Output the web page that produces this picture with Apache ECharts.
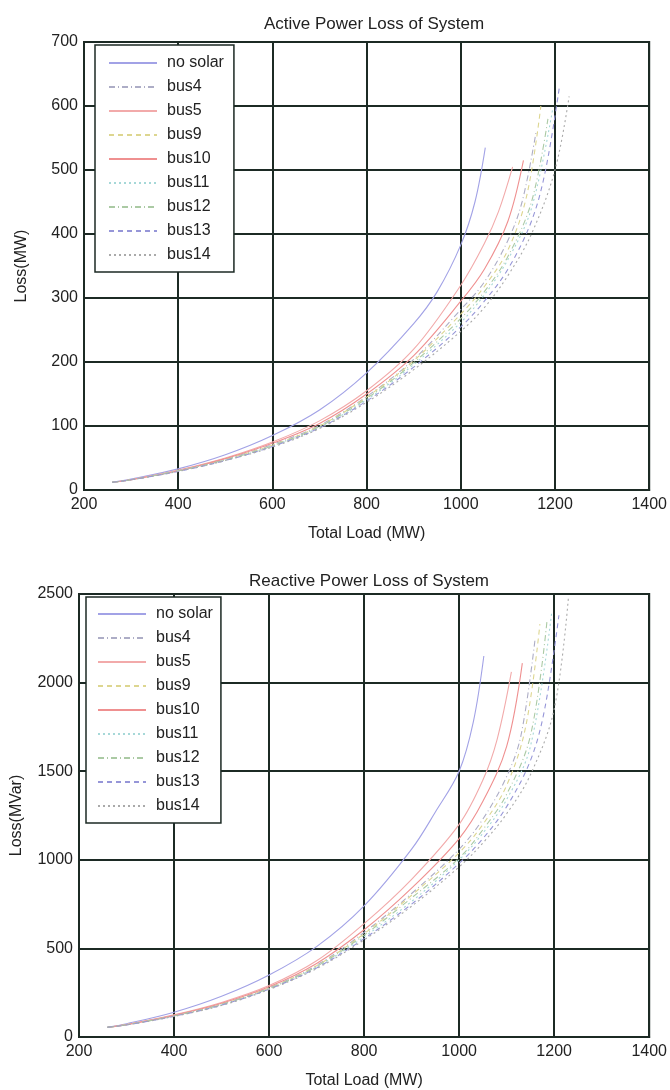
<!DOCTYPE html>
<html>
<head>
<meta charset="utf-8">
<script src="https://cdn.jsdelivr.net/npm/echarts@6/dist/echarts.min.js"></script>
<style>html,body{margin:0;padding:0;background:#fff}#c{width:670px;height:1090px}</style>
</head>
<body>
<div id="c"></div>
<script>
const seriesNames = ['no solar','bus4','bus5','bus9','bus10','bus11','bus12','bus13','bus14'];
const xTicks = [200, 400, 600, 800, 1000, 1200, 1400];
const pTicks = [0, 100, 200, 300, 400, 500, 600, 700];
const qTicks = [0, 500, 1000, 1500, 2000, 2500];

const noSolarLoad = [260,300,400,500,600,700,800,900,950,1000,1030,1052];
const noSolarP    = [12,17,33,55,85,125,183,260,310,383,450,535];
const noSolarQ    = [55,75,140,230,350,510,740,1060,1270,1500,1780,2150];

const bus4Load = [260,300,400,500,600,700,800,900,1000,1050,1100,1130,1160];
const bus4P    = [12,16,30,48,71,101,146,204,282,325,390,450,560];
const bus4Q    = [55,70,120,186,278,405,590,810,1060,1230,1470,1700,2250];

const bus5Load = [260,300,400,500,600,700,800,900,1000,1050,1080,1110];
const bus5P    = [12,16,31,50,75,108,155,220,320,385,435,505];
const bus5Q    = [55,70,125,195,290,430,640,890,1200,1450,1680,2060];

const bus9Load = [260,300,400,500,600,700,800,900,1000,1050,1100,1140,1170];
const bus9P    = [12,16,30,48,70,100,145,202,275,318,375,460,600];
const bus9Q    = [55,70,120,185,276,402,583,800,1040,1200,1420,1750,2330];

const bus10Load = [260,300,400,500,600,700,800,900,1000,1050,1100,1133];
const bus10P    = [12,16,30,49,73,104,150,210,295,345,420,515];
const bus10Q    = [55,70,122,190,283,415,605,840,1120,1330,1640,2110];

const bus11Load = [260,300,400,500,600,700,800,900,1000,1050,1100,1150,1195];
const bus11P    = [12,16,30,47,69,98,141,196,262,305,360,440,595];
const bus11Q    = [55,69,118,182,272,395,565,765,1000,1150,1340,1640,2400];

const bus12Load = [260,300,400,500,600,700,800,900,1000,1050,1100,1150,1185];
const bus12P    = [12,16,30,47,69,99,143,199,268,310,365,450,580];
const bus12Q    = [55,69,119,184,274,398,575,785,1010,1170,1370,1700,2350];

const bus13Load = [260,300,400,500,600,700,800,900,1000,1050,1100,1150,1180,1210];
const bus13P    = [12,16,29,46,68,97,139,192,255,295,345,420,500,633];
const bus13Q    = [55,68,117,180,270,390,555,750,980,1120,1300,1560,1850,2380];

const bus14Load = [260,300,400,500,600,700,800,900,1000,1050,1100,1150,1200,1230];
const bus14P    = [12,16,29,46,67,96,137,188,248,285,335,400,500,615];
const bus14Q    = [55,68,116,178,268,386,548,738,960,1095,1260,1480,1850,2480];

const loads = [noSolarLoad,bus4Load,bus5Load,bus9Load,bus10Load,bus11Load,bus12Load,bus13Load,bus14Load];
const pVals = [noSolarP,bus4P,bus5P,bus9P,bus10P,bus11P,bus12P,bus13P,bus14P];
const qVals = [noSolarQ,bus4Q,bus5Q,bus9Q,bus10Q,bus11Q,bus12Q,bus13Q,bus14Q];

const colors = ['#a2a2e6','#adadc6','#f2aaaa','#ddd690','#ef9090','#a6d8d8','#abcaa4','#9696d8','#aaaaaa'];
const dashes = ['solid',[6,3,1,3],'solid',[5,4],'solid',[2,3],[6,3,1,3],[5,4],[2,3]];

const INK = '#1c2a24';
const FONT = 'Liberation Sans, Arial, sans-serif';

function pair(xs, ys){ return xs.map((x,i)=>[x, ys[i]]); }

const series = [];
seriesNames.forEach((n,i)=>{
  series.push({name:n,type:'line',xAxisIndex:0,yAxisIndex:0,data:pair(loads[i],pVals[i]),
    symbol:'none',smooth:0.35,color:colors[i],
    lineStyle:{width:1.1,color:colors[i],type:dashes[i]},z:3});
  series.push({name:n,type:'line',xAxisIndex:1,yAxisIndex:1,data:pair(loads[i],qVals[i]),
    symbol:'none',smooth:0.35,color:colors[i],
    lineStyle:{width:1.1,color:colors[i],type:dashes[i]},z:3});
});

function xAxis(gi){
  return {gridIndex:gi,type:'value',min:xTicks[0],max:xTicks[xTicks.length-1],interval:200,
    name:'Total Load (MW)',nameLocation:'middle',nameGap:36,
    nameTextStyle:{fontSize:16,color:'#222',fontFamily:FONT},
    axisLine:{show:true,lineStyle:{color:INK,width:2}},
    axisTick:{show:true,inside:true,length:5,lineStyle:{color:INK,width:1.5}},
    axisLabel:{fontSize:16,color:'#222',fontFamily:FONT,margin:7,formatter:v=>String(v)},
    splitLine:{show:true,lineStyle:{color:INK,width:2}}};
}
function yAxis(gi,max,interval,name){
  return {gridIndex:gi,type:'value',min:0,max:max,interval:interval,
    name:name,nameLocation:'middle',nameGap:54,nameRotate:90,
    nameTextStyle:{fontSize:16,color:'#222',fontFamily:FONT},
    axisLine:{show:true,lineStyle:{color:INK,width:2}},
    axisTick:{show:true,inside:true,length:5,lineStyle:{color:INK,width:1.5}},
    axisLabel:{fontSize:16,color:'#222',fontFamily:FONT,margin:6,formatter:v=>String(v)},
    splitLine:{show:true,lineStyle:{color:INK,width:2}}};
}
function legend(left,top,pad){
  return {orient:'vertical',left:left,top:top,data:seriesNames,
    itemWidth:48,itemHeight:14,itemGap:8,padding:pad,
    itemStyle:{opacity:0},
    backgroundColor:'#fff',borderColor:INK,borderWidth:1.5,
    textStyle:{fontSize:16,color:'#222',fontFamily:FONT,padding:[0,0,0,5]},
    selectedMode:false};
}

const chart = echarts.init(document.getElementById('c'),null,{renderer:'canvas'});
chart.setOption({
  animation:false,
  backgroundColor:'#fff',
  title:[
    {text:'Active Power Loss of System',left:369,top:11,textAlign:'center',
     textStyle:{fontSize:17,fontWeight:'normal',color:'#222',fontFamily:FONT}},
    {text:'Reactive Power Loss of System',left:364,top:568,textAlign:'center',
     textStyle:{fontSize:17,fontWeight:'normal',color:'#222',fontFamily:FONT}}
  ],
  grid:[
    {left:84,right:17,top:42,height:448,show:true,borderColor:INK,borderWidth:2,backgroundColor:'#fff'},
    {left:79,right:20,top:594,height:446,show:true,borderColor:INK,borderWidth:2,backgroundColor:'#fff'}
  ],
  legend:[legend(95,45,[10,10,9,13]),legend(86,597,[9,8,9,11])],
  xAxis:[xAxis(0),xAxis(1)],
  yAxis:[yAxis(0,700,100,'Loss(MW)'),yAxis(1,2500,500,'Loss(MVar)')],
  series:series
});
</script>
</body>
</html>
